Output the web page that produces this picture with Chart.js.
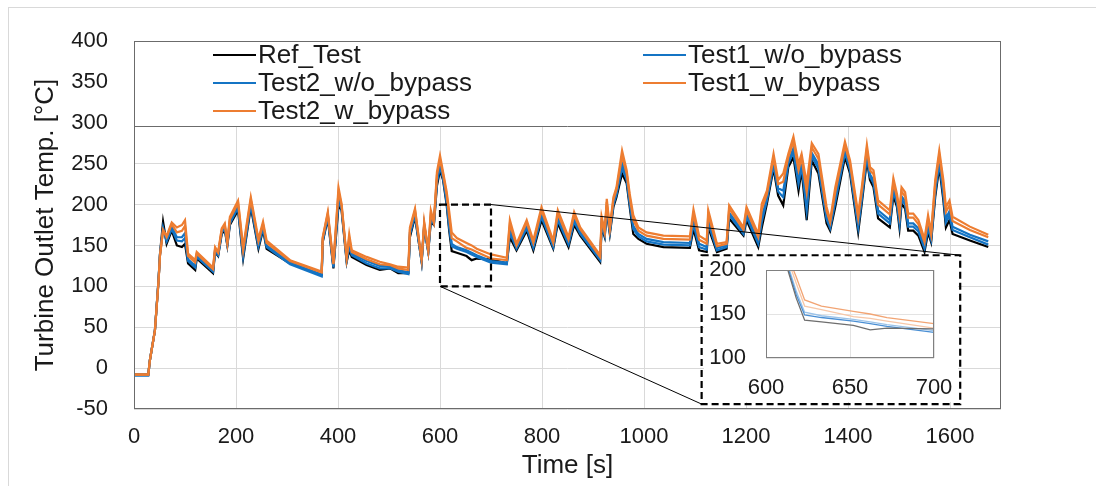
<!DOCTYPE html>
<html>
<head>
<meta charset="utf-8">
<script src="https://cdn.jsdelivr.net/npm/chart.js@4.4.1/dist/chart.umd.min.js"></script>
<style>
    html, body { margin: 0; padding: 0; background: #fff; }
    #wrap { position: relative; width: 1096px; height: 486px; overflow: hidden; }
    #frame { position: absolute; left: 8px; top: 7px; width: 1100px; height: 490px;
             border-top: 1px solid #d9d9d9; border-left: 1px solid #d9d9d9; }
    #mainChart { position: absolute; left: 0; top: 0; }
    #insetChart { position: absolute; background: #fff; }
</style>
</head>
<body>
<div id="wrap">
    <div id="frame"></div>
    <canvas id="mainChart" width="1096" height="486"></canvas>
    <canvas id="insetChart" width="10" height="10"></canvas>
</div>
<script>
// ========================================================================
// Data
// ========================================================================
const timeSec = [
    0, 28, 31, 41, 48, 51, 57, 64, 74, 84, 94, 100, 106, 120, 123, 155, 159, 165, 172, 178,
    183, 188, 204, 214, 229, 244, 253, 260, 306, 368, 370, 380, 391, 401, 407, 417, 422, 427, 456, 482,
    502, 518, 538, 541, 551, 564, 569, 577, 582, 588, 594, 600, 606, 613, 618, 623, 633, 652, 662, 672,
    700, 731, 737, 750, 770, 783, 799, 822, 831, 852, 863, 875, 914, 917, 923, 927, 933, 940, 946, 957,
    966, 972, 979, 989, 1005, 1038, 1090, 1097, 1108, 1123, 1126, 1143, 1162, 1167, 1195, 1201, 1224, 1231, 1241, 1254,
    1263, 1273, 1283, 1293, 1303, 1309, 1319, 1329, 1342, 1358, 1365, 1375, 1394, 1404, 1420, 1427, 1437, 1443, 1450, 1459,
    1482, 1489, 1496, 1501, 1505, 1512, 1518, 1528, 1538, 1550, 1557, 1563, 1571, 1579, 1587, 1592, 1599, 1605, 1639, 1675
];

const refTest = [
    -8, -8, 9, 46, 107, 140, 179, 152, 168, 150, 148, 152, 128, 120, 134, 116, 142, 137, 164, 169,
    150, 175, 193, 134, 197, 146, 169, 146, 128, 114, 154, 183, 122, 199, 193, 130, 144, 136, 126, 120,
    122, 116, 116, 160, 185, 130, 172, 142, 179, 175, 223, 242, 230, 200, 168, 143, 141, 137, 132, 134,
    133, 128, 160, 144, 168, 144, 181, 146, 177, 148, 175, 162, 130, 172, 160, 193, 164, 197, 209, 238,
    226, 197, 164, 158, 152, 148, 147, 170, 144, 142, 172, 142, 146, 183, 162, 181, 148, 172, 201, 244,
    211, 199, 246, 258, 217, 242, 181, 254, 238, 177, 168, 197, 258, 238, 166, 201, 254, 230, 221, 183,
    172, 211, 197, 171, 201, 195, 168, 168, 162, 142, 166, 154, 209, 246, 205, 172, 181, 164, 156, 148
];

const test1WoBypass = [
    -9, -9, 9, 46, 106, 139, 172, 155, 170, 156, 155, 159, 131, 123, 136, 118, 143, 138, 166, 171,
    151, 177, 196, 137, 200, 149, 171, 148, 127, 112, 155, 185, 123, 204, 195, 131, 149, 138, 128, 122,
    122, 118, 115, 163, 187, 130, 174, 142, 182, 176, 227, 246, 232, 203, 172, 149, 146, 142, 139, 136,
    129, 127, 165, 146, 171, 147, 185, 148, 181, 151, 179, 164, 132, 175, 162, 196, 166, 200, 212, 245,
    230, 201, 170, 161, 155, 151, 150, 176, 148, 145, 177, 144, 148, 187, 164, 185, 152, 179, 205, 248,
    216, 209, 250, 264, 225, 247, 192, 259, 244, 182, 171, 203, 263, 242, 172, 206, 259, 234, 226, 189,
    177, 216, 201, 176, 206, 200, 173, 173, 167, 146, 171, 157, 214, 251, 211, 178, 187, 169, 160, 151
];

const test2WoBypass = [
    -9, -9, 9, 46, 106, 139, 170, 156, 173, 160, 160, 165, 133, 125, 138, 119, 145, 139, 167, 173,
    152, 180, 198, 140, 202, 151, 174, 150, 129, 114, 157, 187, 125, 209, 197, 133, 153, 140, 131, 125,
    124, 120, 117, 166, 190, 131, 175, 143, 185, 177, 231, 250, 234, 206, 176, 152, 148, 144, 141, 138,
    131, 129, 170, 148, 174, 149, 188, 150, 184, 153, 182, 167, 134, 178, 164, 199, 168, 202, 214, 251,
    233, 204, 174, 164, 158, 154, 153, 181, 152, 148, 181, 147, 150, 190, 167, 188, 155, 185, 208, 252,
    220, 217, 253, 269, 232, 251, 201, 263, 249, 186, 174, 208, 267, 245, 176, 210, 263, 237, 230, 193,
    181, 220, 204, 181, 210, 204, 177, 177, 171, 149, 175, 159, 218, 255, 216, 183, 192, 173, 163, 155
];

const test1WBypass = [
    -8, -8, 9, 46, 105, 138, 169, 160, 176, 166, 168, 174, 137, 129, 140, 121, 146, 141, 169, 175,
    153, 182, 202, 144, 206, 155, 176, 153, 131, 117, 159, 189, 127, 216, 199, 134, 159, 142, 133, 127,
    126, 122, 120, 169, 193, 132, 177, 144, 189, 178, 236, 255, 237, 212, 185, 159, 155, 147, 145, 142,
    134, 132, 176, 150, 178, 153, 193, 153, 189, 157, 187, 170, 136, 182, 166, 203, 170, 206, 218, 259,
    238, 209, 181, 168, 162, 158, 157, 188, 157, 152, 188, 149, 152, 195, 169, 193, 160, 194, 213, 257,
    225, 228, 258, 277, 242, 257, 215, 270, 256, 192, 178, 215, 272, 250, 183, 216, 268, 242, 237, 200,
    188, 227, 209, 187, 216, 210, 184, 184, 176, 154, 182, 163, 225, 261, 224, 191, 199, 180, 169, 160
];

const test2WBypass = [
    -8, -8, 9, 46, 105, 138, 168, 162, 178, 172, 175, 181, 140, 132, 142, 123, 148, 142, 171, 177,
    154, 185, 205, 148, 209, 158, 179, 156, 132, 118, 160, 191, 128, 221, 201, 136, 164, 144, 136, 130,
    127, 124, 123, 172, 195, 132, 179, 144, 193, 179, 240, 260, 240, 216, 192, 166, 159, 153, 150, 146,
    139, 135, 181, 152, 181, 156, 197, 156, 193, 160, 191, 172, 138, 185, 168, 207, 172, 209, 221, 266,
    242, 213, 187, 172, 166, 162, 161, 194, 162, 156, 193, 152, 154, 199, 172, 197, 164, 201, 217, 262,
    230, 238, 262, 283, 250, 262, 226, 275, 262, 197, 181, 221, 277, 254, 189, 221, 273, 246, 242, 205,
    193, 232, 213, 193, 221, 215, 189, 189, 181, 158, 187, 166, 230, 266, 230, 197, 205, 185, 173, 163
];

const seriesNames = ['Ref_Test', 'Test1_w/o_bypass', 'Test2_w/o_bypass', 'Test1_w_bypass', 'Test2_w_bypass'];
const seriesValues = [refTest, test1WoBypass, test2WoBypass, test1WBypass, test2WBypass];

// tick labels
const xTicks = [0, 200, 400, 600, 800, 1000, 1200, 1400, 1600];
const yTicks = [-50, 0, 50, 100, 150, 200, 250, 300, 350, 400];
const insetXTicks = [600, 650, 700];
const insetYTicks = [100, 150, 200];

// ========================================================================
// Styles / layout
// ========================================================================
const FONT = '"Liberation Sans", Arial, sans-serif';
const TEXT_COLOR = '#1a1a1a';
const mainColors = ['#000000', '#1474c4', '#1474c4', '#ed7d31', '#ed7d31'];
const insetColors = ['#6e6e6e', '#4a8fd4', '#9cc3e8', '#f7c7a8', '#f2a473'];

const zoomRegion = { xMin: 600, xMax: 700, yMin: 100, yMax: 200 };   // dashed box on the curves
const insetBox = { xMin: 1113, xMax: 1620, yMin: -44, yMax: 138 };   // dashed box holding the inset
const legendBottom = 295.5;                                          // legend panel covers 400 -> this

let mainChart = null;
let insetChart = null;

function buildDatasets(colors, width, withOrder) {
    return seriesNames.map((name, i) => ({
        label: name,
        data: timeSec.map((t, k) => ({ x: t, y: seriesValues[i][k] })),
        borderColor: colors[i],
        backgroundColor: colors[i],
        borderWidth: width,
        pointRadius: 0,
        tension: 0,
        fill: false,
        order: withOrder ? seriesNames.length - i : 0
    }));
}

function fixedTicks(list) {
    return (scale) => { scale.ticks = list.map(v => ({ value: v })); };
}

// scale size is fixed by hand, tick labels must not push the plot area
function fixedSize(prop, size) {
    return (scale) => {
        scale[prop] = size;
        scale.paddingLeft = scale.paddingRight = 0;
        scale.paddingTop = scale.paddingBottom = 0;
    };
}

// ========================================================================
// Plugins
// ========================================================================

// frame round the plot area + legend panel inside the top of it
const plotFramePlugin = {
    id: 'plotFrame',
    afterDatasetsDraw(chart) {
        const { ctx, chartArea: a, scales: { y } } = chart;
        const panelBottom = Math.round(y.getPixelForValue(legendBottom)) + 0.5;
        ctx.save();
        ctx.fillStyle = '#ffffff';
        ctx.fillRect(a.left, a.top, a.right - a.left, panelBottom - a.top);
        ctx.strokeStyle = '#6b6b6b';
        ctx.lineWidth = 1;
        ctx.strokeRect(a.left + 0.5, a.top + 0.5, a.right - a.left - 1, a.bottom - a.top - 1);
        ctx.beginPath();
        ctx.moveTo(a.left, panelBottom);
        ctx.lineTo(a.right, panelBottom);
        ctx.stroke();

        // legend entries, two columns, row major
        ctx.font = '26px ' + FONT;
        ctx.textBaseline = 'middle';
        ctx.fillStyle = TEXT_COLOR;
        const colX = [a.left + 79, a.left + 509];
        chart.data.datasets.forEach((ds, i) => {
            const lx = colX[i % 2];
            const ly = a.top + 14 + Math.floor(i / 2) * 28;
            ctx.strokeStyle = ds.borderColor;
            ctx.lineWidth = 2.2;
            ctx.beginPath();
            ctx.moveTo(lx, ly);
            ctx.lineTo(lx + 43, ly);
            ctx.stroke();
            ctx.fillText(ds.label, lx + 45, ly + 1);
        });
        ctx.restore();
    }
};

// dashed zoom box, dashed inset frame and the two connecting lines
const zoomBoxPlugin = {
    id: 'zoomBox',
    afterDraw(chart) {
        const { ctx, scales: { x, y } } = chart;
        const zx1 = x.getPixelForValue(zoomRegion.xMin), zx2 = x.getPixelForValue(zoomRegion.xMax);
        const zy1 = y.getPixelForValue(zoomRegion.yMax), zy2 = y.getPixelForValue(zoomRegion.yMin);
        const bx1 = x.getPixelForValue(insetBox.xMin), bx2 = x.getPixelForValue(insetBox.xMax);
        const by1 = y.getPixelForValue(insetBox.yMax), by2 = y.getPixelForValue(insetBox.yMin);

        ctx.save();
        ctx.strokeStyle = '#000000';
        ctx.lineWidth = 1;
        ctx.beginPath();
        ctx.moveTo(zx2, zy1);
        ctx.lineTo(bx2, by1);
        ctx.moveTo(zx1, zy2);
        ctx.lineTo(bx1, by2);
        ctx.stroke();

        ctx.lineWidth = 2.2;
        ctx.setLineDash([7, 4]);
        ctx.strokeRect(zx1, zy1, zx2 - zx1, zy2 - zy1);
        ctx.strokeRect(bx1, by1, bx2 - bx1, by2 - by1);
        ctx.restore();
    }
};

const insetFramePlugin = {
    id: 'insetFrame',
    afterDatasetsDraw(chart) {
        const { ctx, chartArea: a } = chart;
        ctx.save();
        ctx.strokeStyle = '#808080';
        ctx.lineWidth = 1;
        ctx.strokeRect(a.left + 0.5, a.top + 0.5, a.right - a.left - 1, a.bottom - a.top - 1);
        ctx.restore();
    }
};

// ========================================================================
// Charts
// ========================================================================
function initMainChart() {
    const canvas = document.getElementById('mainChart');
    mainChart = new Chart(canvas, {
        type: 'line',
        data: { datasets: buildDatasets(mainColors, 2.2, true) },
        options: {
            responsive: false,
            animation: false,
            events: [],
            layout: { padding: { left: 0, top: 41, right: 95, bottom: 0 } },
            plugins: { legend: { display: false }, tooltip: { enabled: false } },
            scales: {
                x: {
                    type: 'linear',
                    min: 0,
                    max: 1700,
                    afterBuildTicks: fixedTicks(xTicks),
                    afterFit: fixedSize('height', 77),
                    ticks: {
                        autoSkip: false, maxRotation: 0, padding: 15,
                        color: TEXT_COLOR, font: { family: FONT, size: 22 },
                        callback: (v) => String(v)
                    },
                    grid: { color: '#d9d9d9', drawTicks: false },
                    border: { display: false },
                    title: {
                        display: true, text: 'Time [s]', color: TEXT_COLOR,
                        font: { family: FONT, size: 26 }, padding: { top: 0, bottom: 5 }
                    }
                },
                y: {
                    min: -50,
                    max: 400,
                    afterBuildTicks: fixedTicks(yTicks),
                    afterFit: fixedSize('width', 134),
                    ticks: {
                        padding: 26, color: TEXT_COLOR,
                        font: { family: FONT, size: 22 },
                        callback: (v) => String(v)
                    },
                    grid: { color: '#d9d9d9', drawTicks: false },
                    border: { display: false },
                    title: {
                        display: true, text: 'Turbine Outlet Temp. [°C]', color: TEXT_COLOR,
                        font: { family: FONT, size: 26 }, padding: { top: 30, bottom: 0 }
                    }
                }
            }
        },
        plugins: [plotFramePlugin, zoomBoxPlugin]
    });
}

function initInsetChart() {
    const canvas = document.getElementById('insetChart');
    const x = mainChart.scales.x, y = mainChart.scales.y;
    const left = Math.round(x.getPixelForValue(insetBox.xMin)) + 2;
    const top = Math.round(y.getPixelForValue(insetBox.yMax)) + 2;
    const right = Math.round(x.getPixelForValue(insetBox.xMax)) - 2;
    const bottom = Math.round(y.getPixelForValue(insetBox.yMin)) - 2;
    canvas.width = right - left;
    canvas.height = bottom - top;
    canvas.style.left = left + 'px';
    canvas.style.top = top + 'px';

    insetChart = new Chart(canvas, {
        type: 'line',
        data: { datasets: buildDatasets(insetColors, 1.3, false) },
        options: {
            responsive: false,
            animation: false,
            events: [],
            layout: { padding: { left: 0, top: 13, right: 24, bottom: 0 } },
            plugins: { legend: { display: false }, tooltip: { enabled: false } },
            scales: {
                x: {
                    type: 'linear', min: 600, max: 700,
                    afterBuildTicks: fixedTicks(insetXTicks),
                    afterFit: fixedSize('height', 44),
                    ticks: {
                        autoSkip: false, maxRotation: 0, padding: 17,
                        color: TEXT_COLOR, font: { family: FONT, size: 22 }
                    },
                    grid: { color: '#e3e3e3', drawTicks: false },
                    border: { display: false }
                },
                y: {
                    min: 100, max: 200,
                    afterBuildTicks: fixedTicks(insetYTicks),
                    afterFit: fixedSize('width', 62),
                    ticks: {
                        padding: 20, color: TEXT_COLOR, font: { family: FONT, size: 22 }
                    },
                    grid: { color: '#e3e3e3', drawTicks: false },
                    border: { display: false }
                }
            }
        },
        plugins: [insetFramePlugin]
    });
}

initMainChart();
initInsetChart();
</script>
</body>
</html>
